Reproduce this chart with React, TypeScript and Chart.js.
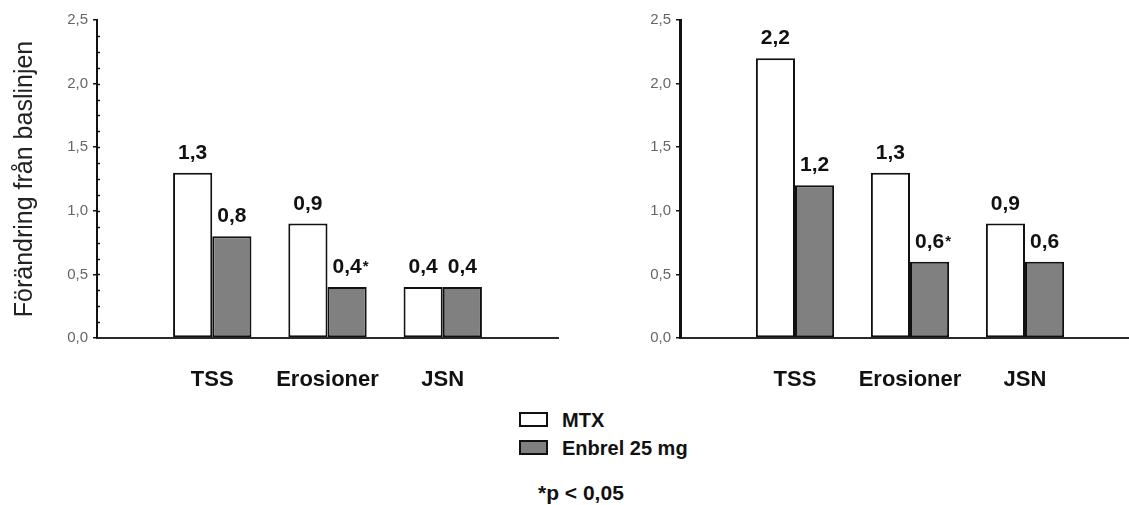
import React, { useEffect, useRef } from "react";
import { Chart, registerables } from "chart.js";

Chart.register(...registerables);

// ---- data ----
const CATEGORIES = ["TSS", "Erosioner", "JSN"];
const SERIES_NAMES = ["MTX", "Enbrel 25 mg"];
const LEFT_MTX = [1.3, 0.9, 0.4];
const LEFT_ENBREL = [0.8, 0.4, 0.4];
const LEFT_MTX_SIG = [false, false, false];
const LEFT_ENBREL_SIG = [false, true, false];
const RIGHT_MTX = [2.2, 1.3, 0.9];
const RIGHT_ENBREL = [1.2, 0.6, 0.6];
const RIGHT_MTX_SIG = [false, false, false];
const RIGHT_ENBREL_SIG = [false, true, false];
const Y_MIN = 0;
const Y_MAX = 2.5;
const Y_STEP = 0.5;
const Y_MINOR_STEP = 0.125;
const Y_TITLE = "Förändring från baslinjen";
const FOOTNOTE = "*p < 0,05";

const FONT = "'Liberation Sans', Arial, sans-serif";
const MTX_FILL = "#ffffff";
const ENBREL_FILL = "#808080";
const INK = "#111111";

const fmt = (v: number) => v.toFixed(1).replace(".", ",");

function valueLabelPlugin(sigs: boolean[][]) {
  return {
    id: "valueLabels",
    afterDatasetsDraw(chart: any) {
      const ctx = chart.ctx;
      ctx.save();
      chart.data.datasets.forEach((ds: any, di: number) => {
        const meta = chart.getDatasetMeta(di);
        ds.data.forEach((v: number | null, i: number) => {
          if (v === null || v === undefined) return;
          const el = meta.data[i];
          const txt = fmt(v);
          const y = el.y - 14;
          ctx.font = `bold 21px ${FONT}`;
          ctx.fillStyle = INK;
          ctx.textAlign = "center";
          ctx.textBaseline = "alphabetic";
          ctx.fillText(txt, el.x, y);
          if (sigs[di][i - 1]) {
            const w = ctx.measureText(txt).width;
            ctx.font = `bold 15px ${FONT}`;
            ctx.textAlign = "left";
            ctx.fillText("*", el.x + w / 2 + 1, y - 2);
          }
        });
      });
      ctx.restore();
    },
  };
}

const minorTickPlugin = {
  id: "minorTicks",
  afterDraw(chart: any) {
    const y = chart.scales.y;
    const ctx = chart.ctx;
    const x0 = chart.chartArea.left;
    ctx.save();
    ctx.strokeStyle = INK;
    ctx.lineWidth = 1.5;
    for (let v = Y_MIN + Y_MINOR_STEP; v < Y_MAX; v += Y_MINOR_STEP) {
      const py = Math.round(y.getPixelForValue(v)) + 0.5;
      ctx.beginPath();
      ctx.moveTo(x0, py);
      ctx.lineTo(x0 + 3, py);
      ctx.stroke();
    }
    ctx.restore();
  },
};

function makeConfig(
  mtx: number[],
  enbrel: number[],
  sigs: boolean[][],
  yWidth: number,
  showTitle: boolean,
  borderWidth: number,
  minor: boolean
): any {
  const labels = ["", ...CATEGORIES, ""];
  const pad = (a: number[]) => [null, ...a, null];
  return {
    type: "bar",
    data: {
      labels,
      datasets: [
        {
          label: SERIES_NAMES[0],
          data: pad(mtx),
          backgroundColor: MTX_FILL,
          borderColor: INK,
          borderWidth: 2,
          borderSkipped: false,
          barPercentage: 1,
          categoryPercentage: 0.68,
        },
        {
          label: SERIES_NAMES[1],
          data: pad(enbrel),
          backgroundColor: ENBREL_FILL,
          borderColor: INK,
          borderWidth: 2,
          borderSkipped: false,
          barPercentage: 1,
          categoryPercentage: 0.68,
        },
      ],
    },
    options: {
      animation: false,
      responsive: false,
      events: [],
      layout: { padding: { top: 20, right: 5, left: 0, bottom: 0 } },
      plugins: {
        legend: { display: false },
        tooltip: { enabled: false },
      },
      scales: {
        x: {
          type: "category",
          offset: false,
          grid: { display: false, drawTicks: false },
          border: { display: true, color: "#2a2a2a", width: 2 },
          ticks: {
            font: { family: FONT, size: 22, weight: "bold" },
            color: INK,
            padding: 29,
            maxRotation: 0,
            autoSkip: false,
          },
          afterFit(scale: any) {
            scale.height = 62;
            scale.paddingLeft = 0;
            scale.paddingRight = 0;
          },
        },
        y: {
          min: Y_MIN,
          max: Y_MAX,
          grid: {
            drawOnChartArea: false,
            drawTicks: true,
            tickLength: 4,
            color: INK,
            lineWidth: 1.5,
          },
          border: { display: true, color: INK, width: borderWidth },
          ticks: {
            stepSize: Y_STEP,
            padding: 5,
            color: "#666666",
            font: { family: FONT, size: 15 },
            callback: (v: number) => fmt(v),
          },
          title: {
            display: showTitle,
            text: Y_TITLE,
            color: "#222",
            font: { family: FONT, size: 25 },
            padding: { top: 10, bottom: 0 },
          },
          afterFit(scale: any) {
            scale.width = yWidth;
          },
        },
      },
    },
    plugins: minor ? [valueLabelPlugin(sigs), minorTickPlugin] : [valueLabelPlugin(sigs)],
  };
}

function ChartCanvas(props: {
  left: number;
  width: number;
  config: () => any;
}) {
  const ref = useRef<HTMLCanvasElement | null>(null);
  useEffect(() => {
    if (!ref.current) return;
    const chart = new Chart(ref.current, props.config());
    return () => chart.destroy();
  }, []);
  return (
    <canvas
      ref={ref}
      width={props.width}
      height={400}
      style={{ position: "absolute", left: props.left, top: 0 }}
    />
  );
}

export default function App() {
  const legendText: React.CSSProperties = {
    position: "absolute",
    left: 562,
    fontFamily: FONT,
    fontWeight: "bold",
    fontSize: 20,
    lineHeight: "20px",
    color: INK,
    whiteSpace: "nowrap",
  };
  const box: React.CSSProperties = {
    position: "absolute",
    left: 519,
    width: 25,
    height: 11,
    border: `2px solid ${INK}`,
  };
  return (
    <div
      style={{
        position: "fixed",
        left: 0,
        top: 0,
        width: 1129,
        height: 505,
        overflow: "hidden",
        background: "#fff",
      }}
    >
      <ChartCanvas
        left={0}
        width={563}
        config={() =>
          makeConfig(LEFT_MTX, LEFT_ENBREL, [LEFT_MTX_SIG, LEFT_ENBREL_SIG], 97, true, 2, true)
        }
      />
      <ChartCanvas
        left={565}
        width={580}
        config={() =>
          makeConfig(RIGHT_MTX, RIGHT_ENBREL, [RIGHT_MTX_SIG, RIGHT_ENBREL_SIG], 115, false, 3, false)
        }
      />
      <div style={{ ...box, top: 412, background: MTX_FILL }} />
      <div style={{ ...legendText, top: 410 }}>{SERIES_NAMES[0]}</div>
      <div style={{ ...box, top: 440, background: ENBREL_FILL }} />
      <div style={{ ...legendText, top: 438 }}>{SERIES_NAMES[1]}</div>
      <div style={{ ...legendText, left: 538, top: 483, fontSize: 21 }}>{FOOTNOTE}</div>
    </div>
  );
}
